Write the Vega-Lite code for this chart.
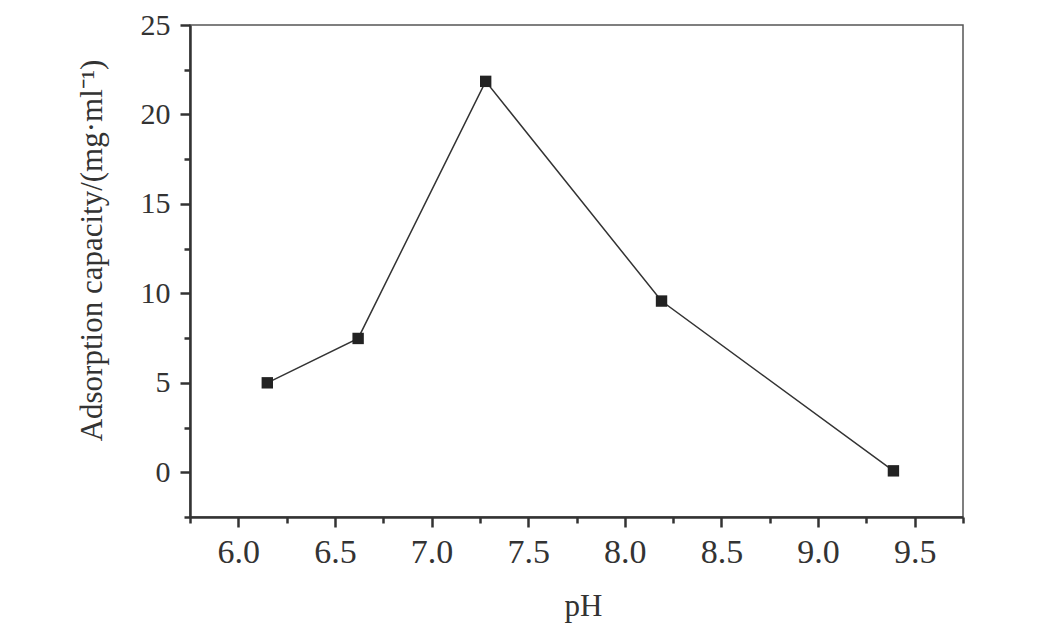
{
  "$schema": "https://vega.github.io/schema/vega-lite/v6.json",
  "width": 773,
  "height": 492,
  "autosize": {"type": "none"},
  "padding": {"left": 190, "top": 25, "right": 84, "bottom": 121},
  "background": "white",
  "config": {
    "view": {"stroke": "#555", "strokeWidth": 1.5},
    "axis": {"labelFont": "Times New Roman", "titleFont": "Times New Roman", "labelColor": "#333", "titleColor": "#333", "titleFontWeight": "normal", "domainColor": "#333", "tickColor": "#333", "grid": false}
  },
  "data": {"values": [
    {"pH": 6.15, "cap": 5.0},
    {"pH": 6.62, "cap": 7.48},
    {"pH": 7.28, "cap": 21.85},
    {"pH": 8.19, "cap": 9.57},
    {"pH": 9.39, "cap": 0.08}
  ]},
  "resolve": {"axis": {"x": "independent", "y": "independent"}},
  "layer": [
    {
      "mark": {"type": "line", "color": "#333", "strokeWidth": 1.5},
      "encoding": {
        "x": {"field": "pH", "type": "quantitative", "scale": {"domain": [5.75, 9.75], "nice": false, "zero": false},
          "axis": {"orient": "bottom", "title": "pH", "values": [6.0, 6.5, 7.0, 7.5, 8.0, 8.5, 9.0, 9.5], "format": ".1f", "labelFontSize": 34, "titleFontSize": 31, "domainWidth": 2.5, "tickWidth": 2.5, "tickSize": 10, "labelPadding": 8, "titlePadding": 22, "titleX": 393}},
        "y": {"field": "cap", "type": "quantitative", "scale": {"domain": [-2.5, 25], "nice": false, "zero": false},
          "axis": {"orient": "left", "title": "Adsorption capacity/(mg·ml⁻¹)", "values": [0, 5, 10, 15, 20, 25], "labelFontSize": 30, "titleFontSize": 31, "domainWidth": 2.5, "tickWidth": 2.5, "tickSize": 10, "labelPadding": 10, "titlePadding": 32, "titleY": 225}}
      }
    },
    {
      "mark": {"type": "point", "shape": "square", "filled": true, "color": "#222", "size": 130, "opacity": 1},
      "encoding": {
        "x": {"field": "pH", "type": "quantitative", "axis": {"orient": "bottom", "title": null, "labels": false, "domain": false, "values": [5.75, 6.25, 6.75, 7.25, 7.75, 8.25, 8.75, 9.25, 9.75], "tickSize": 6, "tickWidth": 2.5}},
        "y": {"field": "cap", "type": "quantitative", "axis": {"orient": "left", "title": null, "labels": false, "domain": false, "values": [-2.5, 2.5, 7.5, 12.5, 17.5, 22.5], "tickSize": 6, "tickWidth": 2.5}}
      }
    }
  ]
}
